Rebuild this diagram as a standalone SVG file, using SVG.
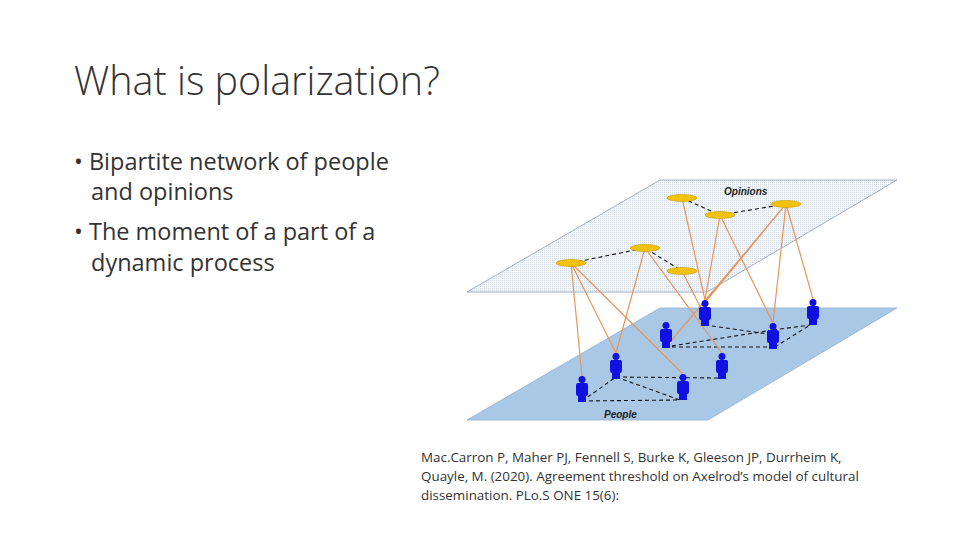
<svg xmlns="http://www.w3.org/2000/svg" width="960" height="540" viewBox="0 0 960 540">
<defs>
<pattern id="dots" width="2" height="2" patternUnits="userSpaceOnUse"><rect width="2" height="2" fill="#f4f7fa"/><rect width="1" height="1" fill="#d5dde6"/></pattern>
<g id="person"><circle cx="0" cy="3.5" r="3.5"/><rect x="-6" y="7" width="12" height="13" rx="2"/><rect x="-4" y="18" width="8" height="8"/></g>
</defs>
<style>
.t{font-family:"Liberation Sans",Arial,sans-serif;fill:#333}
.o{stroke:#e8955a;stroke-width:1.2}
.d{stroke:#111;stroke-width:1.1;stroke-dasharray:4,3;fill:none}
.op{fill:#f2c20f;stroke:#c89a00;stroke-width:0.6}
.p{fill:#1010e0}
</style>
<rect width="960" height="540" fill="#fff"/>
<text class="t" x="74" y="95" font-size="39.5" style="font-family:'Open Sans','Liberation Sans',sans-serif;font-weight:300">What is polarization?</text>
<g class="t" font-size="23.5" style="font-family:'Open Sans','Liberation Sans',sans-serif">
<text x="74" y="170">• Bipartite network of people</text>
<text x="91" y="200">and opinions</text>
<text x="74" y="240">• The moment of a part of a</text>
<text x="91" y="271">dynamic process</text>
</g>
<g class="t" font-size="13.4" style="font-family:'Open Sans','Liberation Sans',sans-serif">
<text x="421" y="462">Mac.Carron P, Maher PJ, Fennell S, Burke K, Gleeson JP, Durrheim K,</text>
<text x="421" y="481">Quayle, M. (2020). Agreement threshold on Axelrod’s model of cultural</text>
<text x="421" y="500">dissemination. PLo.S ONE 15(6):</text>
</g>
<g id="people-plane"><polygon points="660,308 897,308 708,420 467,420" fill="#a9c8e6" stroke="#8fb0d0" stroke-width="0.8"/>
<text x="604" y="418" font-size="10" font-style="italic" font-weight="bold" fill="#222" font-family="Liberation Sans,sans-serif">People</text></g>
<g id="opinions-plane"><polygon points="660,180 897,180 707,292 467,292" fill="url(#dots)" stroke="#8aa0b8" stroke-width="0.8"/>
<text x="724" y="195" font-size="10" font-style="italic" font-weight="bold" fill="#222" font-family="Liberation Sans,sans-serif">Opinions</text></g>
<g id="connectors">
<g class="d">
<path d="M682,198 L720,215 L786,204"/><path d="M571,263 L645,248 L682,271"/>
<path d="M582,401 L680,400 M582,401 L616,377 L680,400 M616,377 L718,378"/>
<path d="M665,347 L775,347 M665,347 L773,330 M705,325 L775,335 M775,347 L810,325 M773,330 L810,325"/>
</g>
<g class="o">
<path d="M571,263 L582,376 M571,263 L616,353 M571,263 L683,374"/>
<path d="M645,248 L616,353 M645,248 L722,353"/>
<path d="M682,271 L707,320 M682,198 L705,300"/>
<path d="M720,215 L705,300 M720,215 L773,323"/>
<path d="M786,204 L707,300 M786,204 L666,347 M786,204 L773,323 M786,204 L813,299"/>
</g>
</g>
<g id="opinions">
<ellipse class="op" cx="682" cy="198" rx="15" ry="3.5"/><ellipse class="op" cx="720" cy="215" rx="15" ry="3.5"/><ellipse class="op" cx="786" cy="204" rx="15" ry="3.5"/>
<ellipse class="op" cx="645" cy="248" rx="15" ry="3.5"/><ellipse class="op" cx="571" cy="263" rx="15" ry="3.5"/><ellipse class="op" cx="682" cy="271" rx="15" ry="3.5"/>
</g>
<g id="people" class="p">
<use href="#person" x="705" y="300"/><use href="#person" x="813" y="299"/><use href="#person" x="666" y="322"/><use href="#person" x="773" y="323"/>
<use href="#person" x="616" y="353"/><use href="#person" x="722" y="353"/><use href="#person" x="582" y="376"/><use href="#person" x="683" y="374"/>
</g>
</svg>
